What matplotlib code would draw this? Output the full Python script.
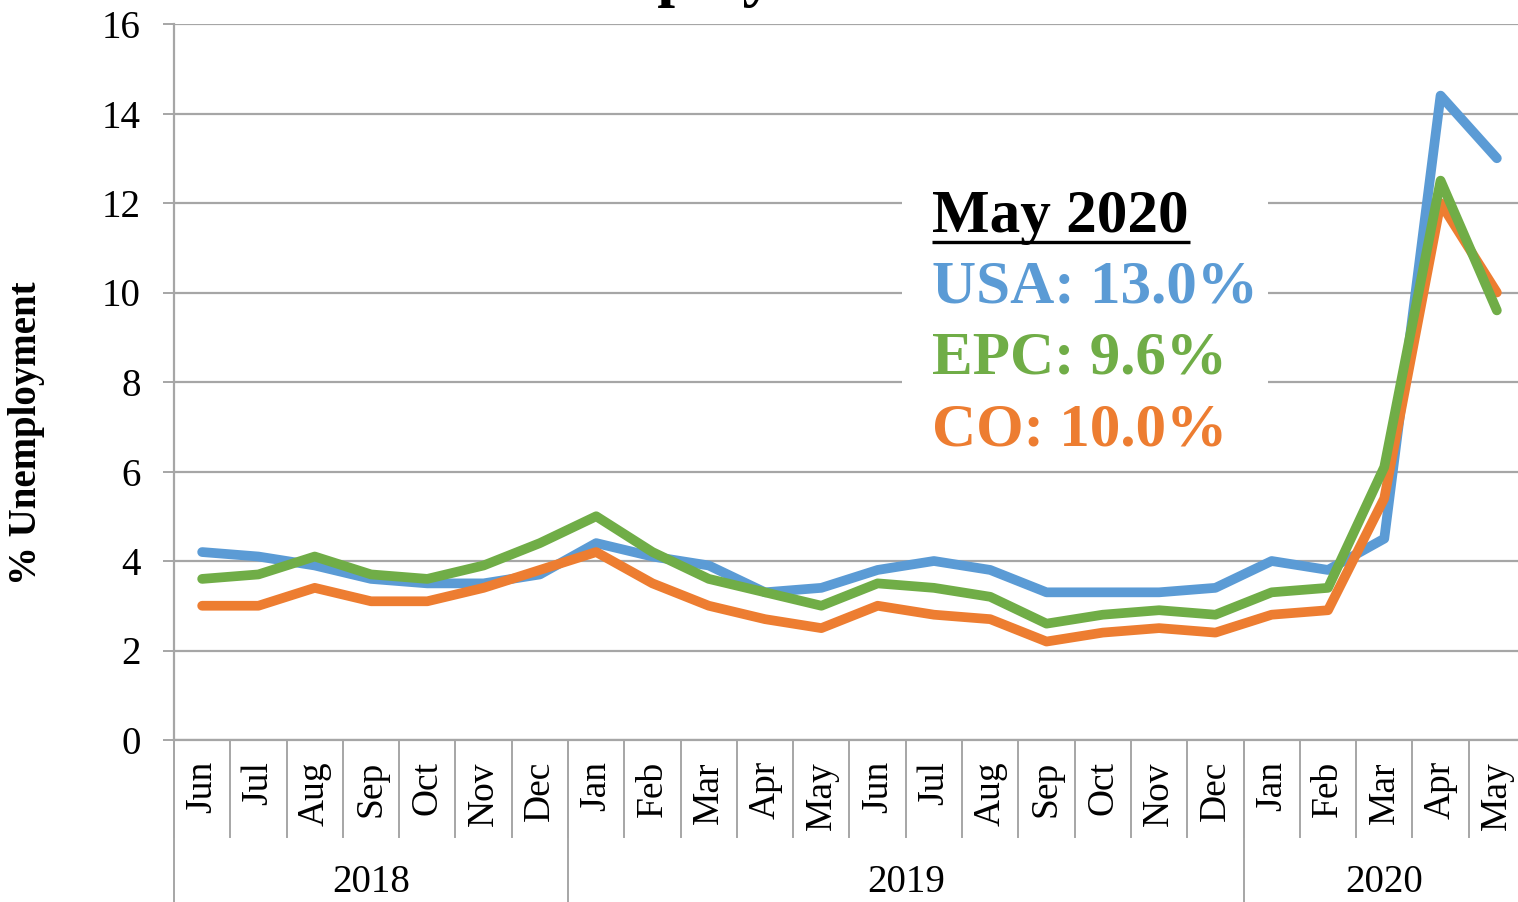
import matplotlib
matplotlib.use("Agg")
import matplotlib.pyplot as plt
from matplotlib.patches import Rectangle
import matplotlib.transforms as mtransforms

plt.rcParams['font.family'] = ['Liberation Serif', 'DejaVu Serif']

months = ["Jun", "Jul", "Aug", "Sep", "Oct", "Nov", "Dec",
          "Jan", "Feb", "Mar", "Apr", "May", "Jun", "Jul", "Aug", "Sep", "Oct", "Nov", "Dec",
          "Jan", "Feb", "Mar", "Apr", "May"]
years = ["2018", "2019", "2020"]
year_counts = [7, 12, 5]

usa = [4.2, 4.1, 3.9, 3.6, 3.5, 3.5, 3.7,
       4.4, 4.1, 3.9, 3.3, 3.4, 3.8, 4.0, 3.8, 3.3, 3.3, 3.3, 3.4,
       4.0, 3.8, 4.5, 14.4, 13.0]
epc = [3.6, 3.7, 4.1, 3.7, 3.6, 3.9, 4.4,
       5.0, 4.2, 3.6, 3.3, 3.0, 3.5, 3.4, 3.2, 2.6, 2.8, 2.9, 2.8,
       3.3, 3.4, 6.1, 12.5, 9.6]
co = [3.0, 3.0, 3.4, 3.1, 3.1, 3.4, 3.8,
      4.2, 3.5, 3.0, 2.7, 2.5, 3.0, 2.8, 2.7, 2.2, 2.4, 2.5, 2.4,
      2.8, 2.9, 5.4, 12.0, 10.0]

C_USA = "#5B9BD5"
C_EPC = "#70AD47"
C_CO = "#ED7D31"
GRID = "#A6A6A6"

W, H = 1518, 902
fig = plt.figure(figsize=(W / 100, H / 100), dpi=100)
ax_left, ax_right, ax_top, ax_bot = 174, 1525, 24, 740
ax = fig.add_axes([ax_left / W, (H - ax_bot) / H, (ax_right - ax_left) / W, (ax_bot - ax_top) / H])
ax_w = ax_right - ax_left
ax_h = ax_bot - ax_top

x = list(range(len(months)))
lw = 7
ax.plot(x, usa, color=C_USA, lw=lw, solid_joinstyle='round', solid_capstyle='round', zorder=3)
ax.plot(x, co, color=C_CO, lw=lw, solid_joinstyle='round', solid_capstyle='round', zorder=4)
ax.plot(x, epc, color=C_EPC, lw=lw, solid_joinstyle='round', solid_capstyle='round', zorder=5)

ax.set_xlim(-0.5, len(months) - 0.5)
ax.set_ylim(0, 16)
ax.set_yticks(range(0, 17, 2))
ax.yaxis.grid(True, color=GRID, lw=1.6)
ax.set_axisbelow(True)
ax.tick_params(axis='y', length=8, width=1.4, color=GRID, labelsize=28, pad=16)
ax.set_xticks([])
for s in ["top", "right"]:
    ax.spines[s].set_visible(False)
for s in ["left", "bottom"]:
    ax.spines[s].set_color(GRID)
    ax.spines[s].set_linewidth(1.6)

ax.set_ylabel("% Unemployment", fontsize=28, fontweight='bold')
ax.yaxis.set_label_coords(-(ax_left - 45) / ax_w, (ax_bot - 433) / ax_h)

# multi-level category axis
trans = mtransforms.blended_transform_factory(ax.transData, ax.transAxes)
month_top = -(761 - ax_bot) / ax_h
sep_bot = -(837 - ax_bot) / ax_h
year_bot = -(H + 5 - ax_bot) / ax_h
year_y = -(882 - ax_bot) / ax_h
for i, m in enumerate(months):
    ax.text(i, month_top, m, transform=trans, rotation=90, ha='center', va='top', fontsize=27)
for i in range(len(months) + 1):
    ax.plot([i - 0.5, i - 0.5], [0, sep_bot], transform=trans, color=GRID, lw=1.4, clip_on=False)
start = 0
bounds = [0]
for yr, n in zip(years, year_counts):
    center = start + (n - 1) / 2
    ax.text(center, year_y, yr, transform=trans, ha='center', va='center', fontsize=28)
    start += n
    bounds.append(start)
for b in bounds:
    ax.plot([b - 0.5, b - 0.5], [0, year_bot], transform=trans, color=GRID, lw=1.4, clip_on=False)

# annotation box
ax.add_patch(Rectangle((12.43, 6.26), 18.94 - 12.43, 12.6 - 6.26, facecolor='white', edgecolor='none', zorder=2))
tx = 12.97
ax.text(tx, 11.35, f"{months[-1]} {years[-1]}", fontsize=44, fontweight='bold', color='black', va='baseline', zorder=6)
ax.plot([tx, 17.55], [11.13, 11.13], color='black', lw=2.4, zorder=6, solid_capstyle='butt')
ax.text(tx, 9.77, f"USA: {usa[-1]:.1f}%", fontsize=44, fontweight='bold', color=C_USA, va='baseline', zorder=6)
ax.text(tx, 8.20, f"EPC: {epc[-1]:.1f}%", fontsize=44, fontweight='bold', color=C_EPC, va='baseline', zorder=6)
ax.text(tx, 6.59, f"CO: {co[-1]:.1f}%", fontsize=44, fontweight='bold', color=C_CO, va='baseline', zorder=6)

# title (cropped at the top edge, as in the reference)
fig.text(704 / W, (H + 6) / H, "Unemployment", ha='center', va='baseline', fontsize=46, fontweight='bold')

fig.savefig("out.png", dpi=100)
